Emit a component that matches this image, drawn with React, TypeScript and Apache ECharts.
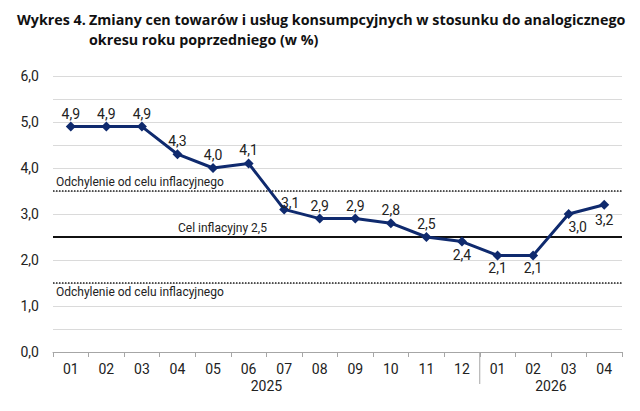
import React, { useEffect, useRef } from "react";
import * as echarts from "echarts";

const months = ["01", "02", "03", "04", "05", "06", "07", "08", "09", "10", "11", "12", "01", "02", "03", "04"];
const years = ["2025", "2026"];
const yearSpans = [12, 4];
const cpi = [4.9, 4.9, 4.9, 4.3, 4.0, 4.1, 3.1, 2.9, 2.9, 2.8, 2.5, 2.4, 2.1, 2.1, 3.0, 3.2];
const labelBelow = [false, false, false, false, false, false, false, false, false, false, false, true, true, true, true, true];
const target = 2.5;
const bandUpper = 3.5;
const bandLower = 1.5;
const bandText = "Odchylenie od celu inflacyjnego";
const targetText = "Cel inflacyjny 2,5";
const titleLead = "Wykres 4.";
const titleLines = ["Zmiany cen towarów i usług konsumpcyjnych w stosunku do analogicznego", "okresu roku poprzedniego (w %)"];

const FONT = "Roboto";
const TITLE_FONT = "'Open Sans'";
const fmt = (v: number) => v.toFixed(1).replace(".", ",");

export default function App() {
  const ref = useRef<HTMLDivElement>(null);
  useEffect(() => {
    if (!ref.current) return;
    const chart = echarts.init(ref.current, undefined, { renderer: "svg" });
    const labelOffsets: Record<number, number[]> = { 6: [6, 7], 14: [9, 0], 15: [0, 2] };
    const option: any = {
      animation: false,
      backgroundColor: "#ffffff",
      textStyle: { fontFamily: FONT },
      grid: { left: 53, right: 18, top: 76, bottom: 59, containLabel: false },
      xAxis: {
        type: "category",
        data: months,
        boundaryGap: true,
        axisLine: { lineStyle: { color: "#a6a6a6", width: 1 } },
        axisTick: { show: true, length: 5, lineStyle: { color: "#a6a6a6" } },
        axisLabel: { color: "#222", fontSize: 14, margin: 10, fontFamily: FONT },
      },
      yAxis: {
        type: "value",
        min: 0,
        max: 6,
        interval: 0.5,
        axisLine: { show: false },
        axisTick: { show: false },
        splitLine: { lineStyle: { color: "#dadada", width: 1 } },
        axisLabel: {
          color: "#222",
          fontSize: 14,
          margin: 14,
          fontFamily: FONT,
          formatter: (v: number) => (Math.abs(v - Math.round(v)) < 1e-6 ? fmt(v) : ""),
        },
      },
      series: [
        {
          type: "line",
          data: [],
          z: 1,
          markLine: {
            silent: true,
            symbol: "none",
            animation: false,
            data: [
              {
                yAxis: bandUpper,
                lineStyle: { type: "dotted", color: "#222", width: 1.5 },
                label: { show: true, position: "insideStartTop", formatter: bandText, color: "#222", fontSize: 12, fontFamily: FONT, distance: 3 },
              },
              {
                yAxis: bandLower,
                lineStyle: { type: "dotted", color: "#222", width: 1.5 },
                label: { show: true, position: "insideStartBottom", formatter: bandText, color: "#222", fontSize: 12, fontFamily: FONT, distance: 3 },
              },
              {
                yAxis: target,
                lineStyle: { type: "solid", color: "#111", width: 2 },
                label: { show: true, position: "insideStartTop", formatter: targetText, color: "#222", fontSize: 12, fontFamily: FONT, distance: 3, padding: [0, 0, 0, 122] },
              },
            ],
          },
        },
        {
          type: "line",
          z: 5,
          data: cpi.map((v, i) => ({
            value: v,
            label: {
              position: labelBelow[i] ? "bottom" : "top",
              offset: labelOffsets[i] || [0, 0],
            },
          })),
          symbol: "diamond",
          symbolSize: 10,
          lineStyle: { color: "#0f2a6e", width: 3 },
          itemStyle: { color: "#0f2a6e" },
          label: {
            show: true,
            color: "#222",
            fontSize: 14,
            fontFamily: FONT,
            distance: 1,
            formatter: (p: any) => fmt(p.value),
          },
        },
      ],
    };
    chart.setOption(option);

    const px = (i: number) => chart.convertToPixel({ xAxisIndex: 0 }, i) as number;
    const axisY = chart.convertToPixel({ yAxisIndex: 0 }, 0) as number;
    const graphics: any[] = [];
    let start = 0;
    years.forEach((y, k) => {
      const end = start + yearSpans[k] - 1;
      const cx = (px(start) + px(end)) / 2;
      graphics.push({
        type: "text",
        x: cx,
        y: axisY + 34,
        style: { text: y, fill: "#222", font: `14px ${FONT}`, textAlign: "center", textVerticalAlign: "middle" },
      });
      if (k < years.length - 1) {
        const bx = (px(end) + px(end + 1)) / 2;
        graphics.push({
          type: "line",
          shape: { x1: bx, y1: axisY, x2: bx, y2: axisY + 32 },
          style: { stroke: "#a6a6a6", lineWidth: 1 },
        });
      }
      start = end + 1;
    });
    graphics.push({
      type: "text",
      x: 17,
      y: 9,
      style: { text: titleLead, fill: "#111", font: `bold 14.3px ${TITLE_FONT}`, lineHeight: 20 },
    });
    graphics.push({
      type: "text",
      x: 89,
      y: 9,
      style: { text: titleLines.join("\n"), fill: "#111", font: `bold 14.3px ${TITLE_FONT}`, lineHeight: 20 },
    });
    chart.setOption({ graphic: graphics });

    return () => chart.dispose();
  }, []);
  return <div ref={ref} style={{ width: 640, height: 411, position: "absolute", left: 0, top: 0 }} />;
}
